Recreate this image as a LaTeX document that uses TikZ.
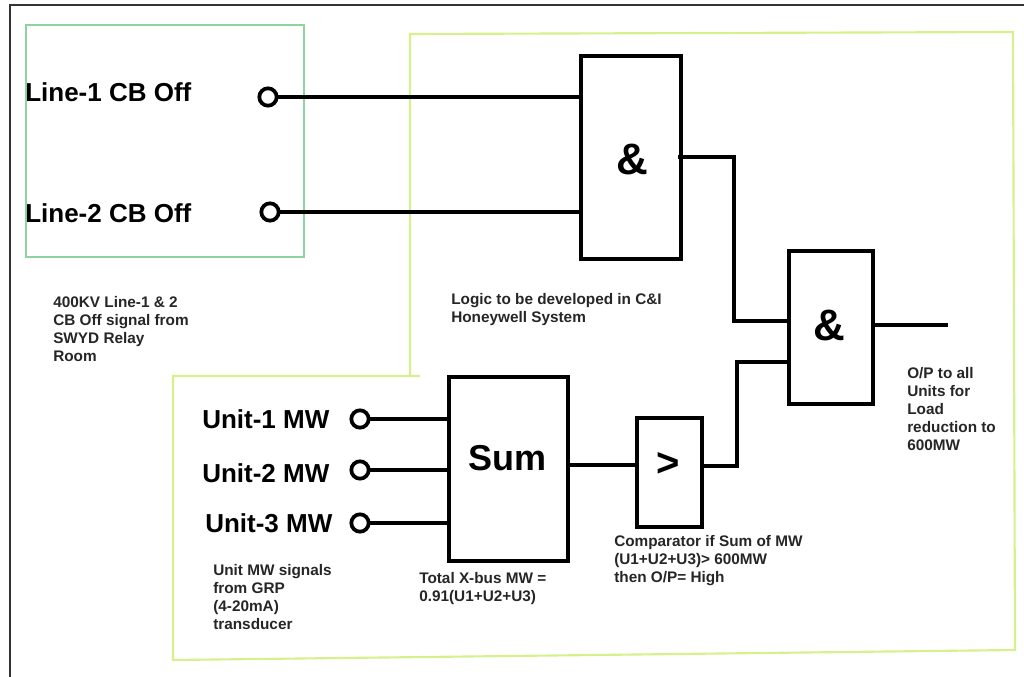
\documentclass[tikz,border=0pt]{standalone}
\usepackage{fontspec}
\setmainfont{Liberation Sans}
\begin{document}
\begin{tikzpicture}[x=0.75pt,y=-0.75pt,
  wire/.style={line width=3pt,line cap=rect},
  gate/.style={draw,line width=3pt,inner sep=0pt,anchor=north west},
  term/.style={circle,draw,line width=2.8pt,minimum size=13pt,inner sep=0pt},
  biglbl/.style={anchor=west,inner sep=0pt,font=\bfseries\fontsize{19.5}{22}\selectfont},
  note/.style={anchor=north west,inner sep=0pt,align=left,text=black!85,font=\bfseries\fontsize{11.5}{13.5}\selectfont},
  sym/.style={inner sep=0pt,font=\bfseries\fontsize{33}{36}\selectfont}]
\useasboundingbox (0,0) rectangle (1024,677);
% frames
\draw[black!80,line width=1.5pt] (10,677) -- (10,5) -- (1024,5);
\draw[draw={rgb,255:red,140;green,212;blue,160},line width=1pt] (26,25) rectangle (304,257);
\draw[draw={rgb,255:red,214;green,240;blue,140},line width=1.6pt] (410,376) -- (410,34) -- (1013,32) -- (1015,650) -- (173,660) -- (173,376) -- (420,376);
% gates
\node[gate,minimum width=75pt,minimum height=152pt] (and1) at (579,54) {};
\node[sym] at (632,159) {\&};
\node[gate,minimum width=63pt,minimum height=115pt] (and2) at (787,249) {};
\node[sym] at (829,325) {\&};
\node[gate,minimum width=89pt,minimum height=138pt] (sum) at (447,375) {};
\node[sym,font=\bfseries\fontsize{27}{30}\selectfont] at (507,458) {Sum};
\node[gate,minimum width=49pt,minimum height=82pt] (cmp) at (635,416) {};
\node[sym,font=\bfseries\fontsize{30}{34}\selectfont] at (668,464) {>};
% inputs
\node[biglbl] (l1) at (25,92) {Line-1 CB Off};
\node[biglbl] (l2) at (25,213) {Line-2 CB Off};
\node[term] (c1) at (268,97) {};
\node[term] (c2) at (270,212) {};
\node[biglbl] (u1) at (202,419) {Unit-1 MW};
\node[biglbl] (u2) at (202,473) {Unit-2 MW};
\node[biglbl] (u3) at (205,523) {Unit-3 MW};
\node[term] (c3) at (360,419) {};
\node[term] (c4) at (360,470) {};
\node[term] (c5) at (360,523) {};
% wires
\draw[wire] (c1.east) -- (c1 -| and1.west);
\draw[wire] (c2.east) -- (c2 -| and1.west);
\draw[wire] (c3.east) -- (c3 -| sum.west);
\draw[wire] (c4.east) -- (c4 -| sum.west);
\draw[wire] (c5.east) -- (c5 -| sum.west);
\coordinate (o1) at (678,157);
\coordinate (j1) at (734,157);
\coordinate (i21) at (787,321);
\draw[wire,line cap=butt] (o1) -- (j1) -- (j1 |- i21) -- (i21);
\coordinate (so) at (566,465);
\draw[wire,line cap=butt] (so) -- (so -| cmp.west);
\coordinate (co) at (700,466);
\coordinate (j2) at (737,466);
\coordinate (i22) at (787,362);
\draw[wire,line cap=butt] (co) -- (j2) -- (j2 |- i22) -- (i22);
\coordinate (out) at (948,325);
\draw[wire,line cap=butt] (871,325) -- (out);
% notes
\node[note] at (53,296) {400KV Line-1 \& 2\\CB Off signal from\\SWYD Relay\\Room};
\node[note] at (451,293) {Logic to be developed in C\&I\\Honeywell System};
\node[note] at (213,564) {Unit MW signals\\from GRP\\(4-20mA)\\transducer};
\node[note] at (419,572) {Total X-bus MW =\\0.91(U1+U2+U3)};
\node[note] at (614,535) {Comparator if Sum of MW\\(U1+U2+U3)> 600MW\\then O/P= High};
\node[note] at (907,367) {O/P to all\\Units for\\Load\\reduction to\\600MW};
\end{tikzpicture}
\end{document}
